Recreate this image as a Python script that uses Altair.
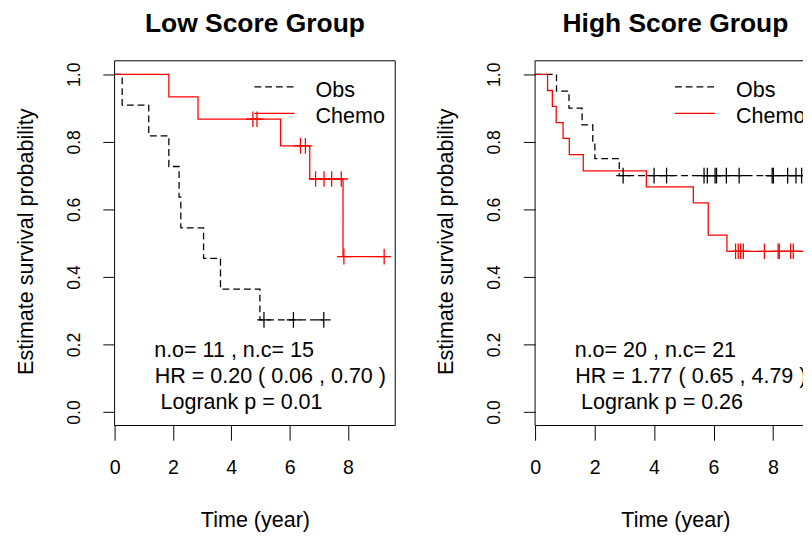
import altair as alt
import pandas as pd

FONT = "Liberation Sans"

# ---------------- data ----------------
groups = ["Obs", "Chemo"]
x_ticks = [0, 2, 4, 6, 8]
y_ticks = [0.0, 0.2, 0.4, 0.6, 0.8, 1.0]

# Low score group
low_obs_event_t = [0.26, 1.17, 1.86, 2.21, 2.27, 3.05, 3.63, 4.98]
low_obs_event_s = [0.909, 0.818, 0.727, 0.636, 0.545, 0.455, 0.364, 0.273]
low_obs_cens_t = [5.12, 6.13, 7.17]

low_chemo_event_t = [1.86, 2.86, 5.69, 6.69, 7.83]
low_chemo_event_s = [0.933, 0.867, 0.788, 0.690, 0.460]
low_chemo_cens_t = [4.74, 4.88, 6.37, 6.54, 6.89, 7.18, 7.44, 7.77, 7.86, 9.24]

# High score group
high_obs_event_t = [0.72, 1.14, 1.58, 1.94, 2.01, 2.83]
high_obs_event_s = [0.95, 0.90, 0.85, 0.80, 0.75, 0.70]
high_obs_cens_t = [2.96, 4.00, 4.42, 5.68, 5.79, 6.05, 6.10, 6.43, 6.86,
                   7.97, 8.01, 8.49, 8.77, 8.96]

high_chemo_event_t = [0.42, 0.58, 0.71, 0.94, 1.15, 1.62, 3.74, 5.32, 5.82, 6.45]
high_chemo_event_s = [0.952, 0.905, 0.857, 0.810, 0.762, 0.714, 0.667, 0.619, 0.524, 0.476]
high_chemo_cens_t = [6.74, 6.83, 6.91, 7.00, 7.71, 8.17, 8.21, 8.59, 8.68, 9.08]

low_stats = ["n.o= 11 , n.c= 15", "HR = 0.20 ( 0.06 , 0.70 )", "Logrank p = 0.01"]
high_stats = ["n.o= 20 , n.c= 21", "HR = 1.77 ( 0.65 , 4.79 )", "Logrank p = 0.26"]

PLUS = "M-0.875,0H0.875M0,-1V1"
H = 373


def level_at(t, ev_t, ev_s):
    s = 1.0
    for et, es in zip(ev_t, ev_s):
        if et <= t:
            s = es
    return s


def curve_frames(group, ev_t, ev_s, cens_t):
    t_end = max(ev_t + cens_t)
    times = [0.0] + list(ev_t) + [t_end]
    survs = [1.0] + list(ev_s) + [ev_s[-1]]
    line = pd.DataFrame({"time": times, "surv": survs, "group": group})
    cens = pd.DataFrame({
        "time": cens_t,
        "surv": [level_at(c, ev_t, ev_s) for c in cens_t],
        "group": group,
    })
    return line, cens


def vrule(x, y0, y1):
    return alt.Chart(pd.DataFrame({"k": [0]})).mark_rule(
        color="black", strokeWidth=1).encode(
        x=alt.value(x), y=alt.value(y0), y2=alt.value(y1))


def hrule(y, x0, x1, color="black", dash=None, clip=False):
    kw = dict(color=color, strokeWidth=1.3 if dash is not None else 1, clip=clip)
    if dash is not None:
        kw["strokeDash"] = dash
    return alt.Chart(pd.DataFrame({"k": [0]})).mark_rule(**kw).encode(
        x=alt.value(x0), x2=alt.value(x1), y=alt.value(y))


def label(text, x, y, size=22):
    return alt.Chart(pd.DataFrame({"label": [text]})).mark_text(
        align="left", baseline="middle", font=FONT, fontSize=size,
        color="black", clip=True).encode(
        x=alt.value(x), y=alt.value(y), text="label:N")


def title_mark(text):
    return alt.Chart(pd.DataFrame({"label": [text]})).mark_text(
        align="center", baseline="alphabetic", font=FONT, fontSize=27,
        fontWeight="bold", color="black").encode(
        x=alt.value(143.5), y=alt.value(-29.7), text="label:N")


def panel(title, obs, chemo, stats, xmax, width, right_border):
    ol, oc = curve_frames("Obs", *obs)
    cl, cc = curve_frames("Chemo", *chemo)
    lines_df = pd.concat([ol, cl], ignore_index=True)
    cens_df = pd.concat([oc, cc], ignore_index=True)

    xscale = alt.Scale(domain=[0, xmax], nice=False, zero=False)
    yscale = alt.Scale(domain=[-0.04, 1.04], nice=False, zero=False)
    color = alt.Color("group:N", scale=alt.Scale(domain=groups, range=["#000000", "#ff0000"]),
                      legend=None)
    dash = alt.StrokeDash("group:N", scale=alt.Scale(domain=groups, range=[[7, 4], [1, 0]]),
                          legend=None)

    xaxis = alt.Axis(values=x_ticks, title="Time (year)", grid=False, domain=False,
                     tickSize=15, tickColor="black", tickWidth=1,
                     labelFont=FONT, labelFontSize=20, labelColor="black",
                     labelPadding=28, labelBaseline="middle", labelFlush=False,
                     titleFont=FONT, titleFontSize=22, titleFontWeight="normal",
                     titleColor="black", titleX=143.5, titleY=96,
                     titleAlign="center", titleBaseline="middle")
    yaxis = alt.Axis(values=y_ticks, format=".1f", title="Estimate survival probability",
                     grid=False, domain=False, tickSize=12, tickColor="black", tickWidth=1,
                     labelFont=FONT, labelFontSize=18, labelColor="black",
                     labelAngle=270, labelAlign="center", labelBaseline="middle",
                     labelPadding=29, labelFlush=False,
                     titleFont=FONT, titleFontSize=22, titleFontWeight="normal",
                     titleColor="black", titleAngle=270, titleX=-91, titleY=H / 2 - 2,
                     titleAlign="center", titleBaseline="middle")

    lines = alt.Chart(lines_df).mark_line(
        interpolate="step-after", strokeWidth=1.3, clip=True).encode(
        x=alt.X("time:Q", scale=xscale, axis=xaxis),
        y=alt.Y("surv:Q", scale=yscale, axis=yaxis),
        color=color, strokeDash=dash)

    marks = alt.Chart(cens_df).mark_point(
        shape=PLUS, size=256, filled=False, strokeWidth=1.3, opacity=1, clip=True).encode(
        x=alt.X("time:Q", scale=xscale),
        y=alt.Y("surv:Q", scale=yscale),
        color=color)

    layers = [lines, marks,
              hrule(0, 0, width), hrule(H, 0, width), vrule(0, 0, H)]
    if right_border:
        layers.append(vrule(width, 0, H))

    layers += [
        hrule(26.7, 143, 184, color="black", dash=[7, 4], clip=True),
        hrule(53.7, 143, 184, color="#ff0000", dash=[1, 0], clip=True),
        label("Obs", 205.5, 30),
        label("Chemo", 205.5, 56.5),
        label(stats[0], 40.5, 295.5),
        label(stats[1], 41, 322),
        label(stats[2], 47, 349),
        title_mark(title),
    ]

    return alt.layer(*layers).properties(width=width, height=H)


left = panel("Low Score Group",
             (low_obs_event_t, low_obs_event_s, low_obs_cens_t),
             (low_chemo_event_t, low_chemo_event_s, low_chemo_cens_t),
             low_stats, 9.62, 287, True)

right = panel("High Score Group",
              (high_obs_event_t, high_obs_event_s, high_obs_cens_t),
              (high_chemo_event_t, high_chemo_event_s, high_chemo_cens_t),
              high_stats, 274 / 30.42, 274, False)

chart = alt.hconcat(left, right, spacing=39).properties(
    padding={"left": 6, "top": -5, "right": 0, "bottom": 0},
    background="white",
).configure_view(stroke="transparent")

chart.save("out.html", embed_options={"renderer": "svg", "actions": False})
